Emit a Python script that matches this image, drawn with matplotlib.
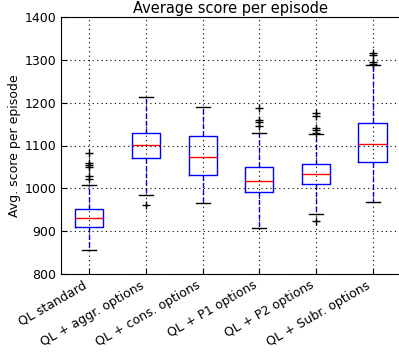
import matplotlib
matplotlib.use("Agg")
import matplotlib.pyplot as plt

labels = ["QL standard", "QL + aggr. options", "QL + cons. options",
          "QL + P1 options", "QL + P2 options", "QL + Subr. options"]
q1 = [910, 1071, 1031, 991, 1010, 1062]
med = [930, 1101, 1073, 1016, 1034, 1103]
q3 = [951, 1130, 1122, 1049, 1057, 1152]
whislo = [856, 984, 965, 907, 940, 969]
whishi = [1007, 1213, 1190, 1129, 1126, 1288]
fliers = [[1082, 1060, 1055, 1050, 1028, 1022],
          [961],
          [],
          [1188, 1160, 1155, 1145],
          [923, 1176, 1168, 1140, 1136, 1130],
          [1315, 1311, 1296, 1291]]

stats = []
for i in range(len(labels)):
    stats.append({"label": labels[i], "q1": q1[i], "med": med[i], "q3": q3[i],
                  "whislo": whislo[i], "whishi": whishi[i], "fliers": fliers[i]})

fig = plt.figure(figsize=(3.99, 3.52), dpi=100)
ax = fig.add_axes([61/399, 1-274/352, 340/399, 257/352])

ax.bxp(stats, widths=0.5, capwidths=0.25,
       boxprops=dict(color="blue", linewidth=1),
       medianprops=dict(color="red", linewidth=1),
       whiskerprops=dict(color="blue", linestyle="--", linewidth=1),
       capprops=dict(color="black", linewidth=1),
       flierprops=dict(marker="+", markeredgecolor="black", markersize=6, linestyle="none"))

ax.set_ylim(800, 1400)
ax.set_xlim(0.5, 6.5)
ax.grid(True, color="black", linestyle=(0, (1, 3)), linewidth=0.8)
ax.set_axisbelow(False)
ax.tick_params(direction="in", labelsize=9, length=4)
plt.setp(ax.get_xticklabels(), rotation=30, ha="right")
ax.set_ylabel("Avg. score per episode", fontsize=9, labelpad=2)
ax.set_title("Average score per episode", fontsize=10.5, pad=3)

fig.savefig("out.png", dpi=100)
